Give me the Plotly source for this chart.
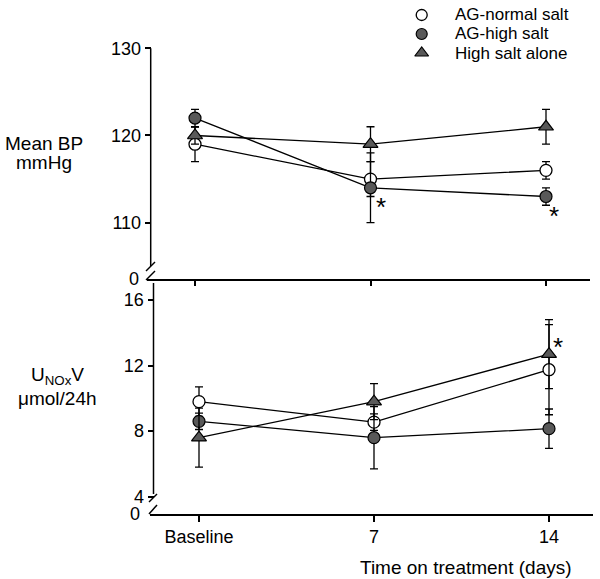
import plotly.graph_objects as go

# ---------------- data ----------------
time_labels = ["Baseline", "7", "14"]
series_names = ["AG-normal salt", "AG-high salt", "High salt alone"]

bp_normal = [119, 115, 116]
bp_normal_err = [2, 2, 1]
bp_high = [122, 114, 113]
bp_high_err = [1, 4, 1]
bp_salt = [120, 119, 121]
bp_salt_err = [1, 2, 2]

nox_normal = [9.8, 8.55, 11.75]
nox_normal_err = [0.9, 0.5, 2.75]
nox_high = [8.6, 7.6, 8.15]
nox_high_err = [0.5, 1.9, 1.2]
nox_salt = [7.6, 9.8, 12.7]
nox_salt_err = [1.8, 1.1, 2.1]

bp_ticks = [110, 120, 130]
nox_ticks = [4, 8, 12, 16]

# ---------------- helpers ----------------
W, H = 600, 579
def px(x):
    return x / W
def py(y):
    return 1 - y / H

FONT = "Arial, Liberation Sans, Helvetica, sans-serif"
GREY = "#595959"

styles = {
    "AG-normal salt": dict(symbol="circle", color="white", size=12, line=dict(color="black", width=1.3)),
    "AG-high salt": dict(symbol="circle", color=GREY, size=12, line=dict(color="black", width=1.2)),
    "High salt alone": dict(symbol="triangle-up", color=GREY, size=13, line=dict(color="black", width=1.2)),
}

fig = go.Figure()

def add_series(name, y, err, xa, ya):
    fig.add_trace(go.Scatter(
        x=time_labels, y=y, name=name, mode="lines+markers",
        xaxis=xa, yaxis=ya, showlegend=False,
        line=dict(color="black", width=1.3),
        marker=styles[name],
        error_y=dict(type="data", array=err, visible=True, color="black", thickness=1.3, width=4),
        cliponaxis=False,
    ))

add_series("AG-normal salt", bp_normal, bp_normal_err, "x", "y")
add_series("AG-high salt", bp_high, bp_high_err, "x", "y")
add_series("High salt alone", bp_salt, bp_salt_err, "x", "y")

add_series("AG-normal salt", nox_normal, nox_normal_err, "x2", "y2")
add_series("AG-high salt", nox_high, nox_high_err, "x2", "y2")
add_series("High salt alone", nox_salt, nox_salt_err, "x2", "y2")

# ---- legend (key symbols on a pixel-space helper axis, labels as text) ----
LEG_SYM_X = 421.7
LEG_TEXT_X = 454
LEG_ROW0 = 15
LEG_ROW_GAP = 19
leg_rows = [LEG_ROW0 + i * LEG_ROW_GAP for i in range(len(series_names))]
for n, r in zip(series_names, leg_rows):
    st = dict(styles[n])
    st["size"] = st["size"] - 1
    fig.add_trace(go.Scatter(x=[LEG_SYM_X], y=[r], mode="markers", marker=st, name=n,
                             xaxis="x3", yaxis="y3", showlegend=False, hoverinfo="skip",
                             cliponaxis=False))

axis_common = dict(showgrid=False, zeroline=False, ticks="outside", tickwidth=1.5,
                   tickcolor="black", tickfont=dict(family=FONT, size=18, color="black"))

fig.update_layout(
    width=W, height=H,
    margin=dict(l=0, r=0, t=0, b=0, autoexpand=False),
    paper_bgcolor="white", plot_bgcolor="rgba(0,0,0,0)",
    font=dict(family=FONT, color="black"),
    showlegend=False,
    xaxis=dict(domain=[px(147), px(590)], range=[-0.2735, 2.2507], type="category",
               categoryarray=time_labels, anchor="y", showline=True, linewidth=1.5,
               linecolor="black", ticklen=5, showticklabels=False, **axis_common),
    yaxis=dict(domain=[py(279), py(48.3)], range=[103.54, 130], anchor="free",
               position=px(150.7), tickvals=bp_ticks, ticklen=6, showline=False, **axis_common),
    xaxis2=dict(domain=[px(150), px(593)], range=[-0.28, 2.2514], type="category",
                categoryarray=time_labels, anchor="y2", showline=True, linewidth=1.5,
                linecolor="black", ticklen=6, **axis_common),
    yaxis2=dict(domain=[py(514), py(283)], range=[2.944, 17.04], anchor="free",
                position=px(153.5), tickvals=nox_ticks, ticklen=6, showline=False, **axis_common),
    xaxis3=dict(domain=[0, 1], range=[0, W], visible=False, anchor="y3"),
    yaxis3=dict(domain=[0, 1], range=[H, 0], visible=False, anchor="x3"),
)

# axis lines with breaks (paper coordinates)
def seg(x0, y0, x1, y1):
    fig.add_shape(type="line", xref="paper", yref="paper",
                  x0=px(x0), y0=py(y0), x1=px(x1), y1=py(y1),
                  line=dict(color="black", width=1.5))

seg(150.7, 48.3, 150.7, 266)
seg(146, 271, 155, 262)
seg(146, 280, 155, 271)

seg(153.5, 283, 153.5, 494)
seg(149, 502, 157, 494)
seg(149, 514, 157, 505)

def txt(x, y, s, size=18, xanchor="center", **kw):
    fig.add_annotation(x=px(x), y=py(y), xref="paper", yref="paper", text=s,
                       xanchor=xanchor, yanchor="middle", borderpad=0,
                       showarrow=False, font=dict(family=FONT, size=size, color="black"), **kw)

# legend labels
for n, r in zip(series_names, leg_rows):
    txt(LEG_TEXT_X, r, n, size=17, xanchor="left")

# zero labels at breaks
txt(134, 279, "0")
txt(135, 513.5, "0")

# y titles
txt(44, 143, "Mean BP", size=19)
txt(44, 163, "mmHg", size=19)
txt(57, 376, "U<sub>NOx</sub>V", size=19)
txt(57, 398, "μmol/24h", size=19)

# x title
txt(466, 567, "Time on treatment (days)", size=19)

# significance asterisks (x as category index)
def star(xa, ya, xi, yv, dx, dy):
    fig.add_annotation(x=xi, y=yv, xref=xa, yref=ya, text="*", showarrow=False,
                       xanchor="center", yanchor="middle",
                       xshift=dx, yshift=dy,
                       font=dict(family=FONT, size=26, color="black"))

star("x", "y", 1, bp_high[1], 10, -19)
star("x", "y", 2, bp_high[2], 8, -19)
star("x2", "y2", 2, nox_salt[2], 9, 7)

fig.write_html("out.html", config={"displayModeBar": False},
               post_script="document.body.style.margin='0';document.body.style.overflow='hidden';")
